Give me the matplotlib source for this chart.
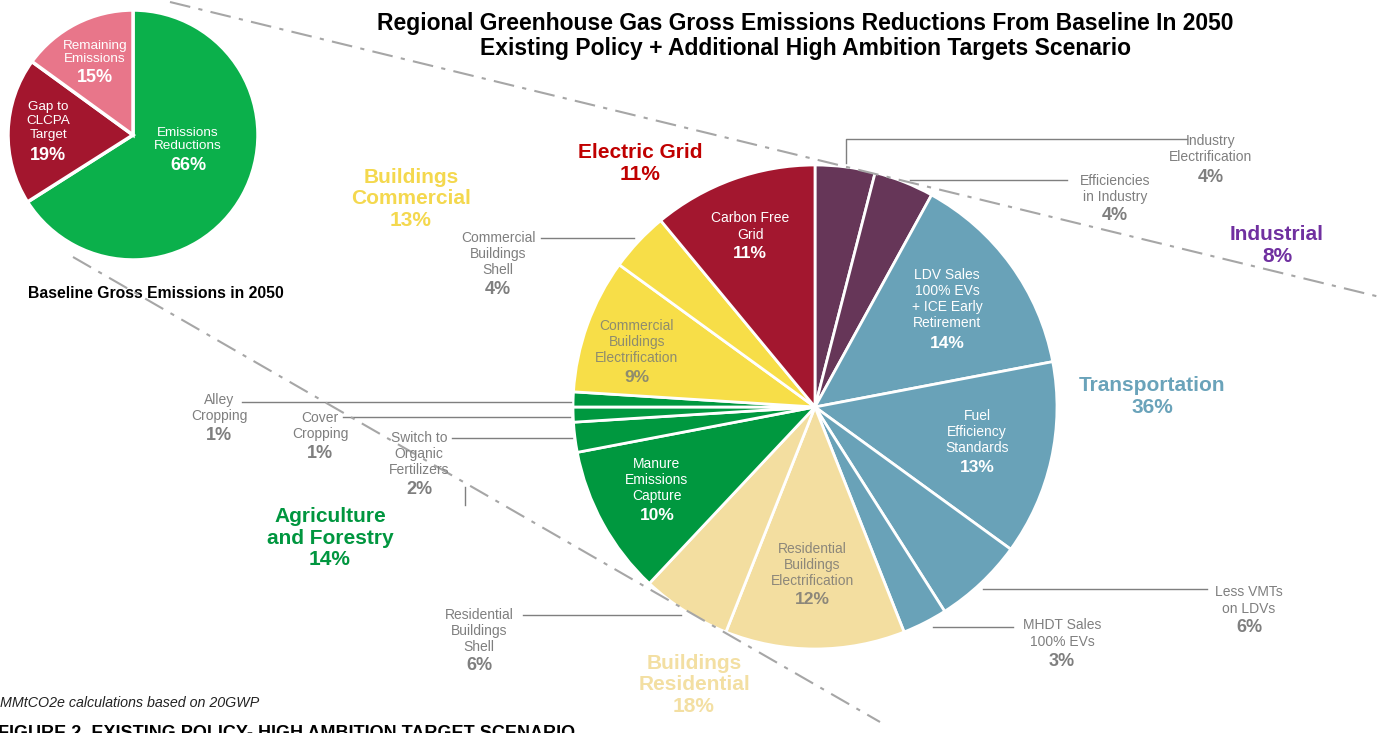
import matplotlib
matplotlib.use('Agg')
import matplotlib.pyplot as plt

plt.rcParams['font.family'] = ['Liberation Sans', 'DejaVu Sans']

# big pie, clockwise from 12 o'clock
measures = ['Industry\nElectrification', 'Efficiencies\nin Industry',
            'LDV Sales\n100% EVs\n+ ICE Early\nRetirement', 'Fuel\nEfficiency\nStandards',
            'Less VMTs\non LDVs', 'MHDT Sales\n100% EVs',
            'Residential\nBuildings\nElectrification', 'Residential\nBuildings\nShell',
            'Manure\nEmissions\nCapture', 'Switch to\nOrganic\nFertilizers',
            'Cover\nCropping', 'Alley\nCropping',
            'Commercial\nBuildings\nElectrification', 'Commercial\nBuildings\nShell',
            'Carbon Free\nGrid']
shares = [4, 4, 14, 13, 6, 3, 12, 6, 10, 2, 1, 1, 9, 4, 11]
sector_of = ['ind', 'ind', 'tra', 'tra', 'tra', 'tra', 'res', 'res',
             'agr', 'agr', 'agr', 'agr', 'com', 'com', 'grid']

sectors = ['Electric Grid', 'Buildings\nCommercial', 'Industrial',
           'Transportation', 'Agriculture\nand Forestry', 'Buildings\nResidential']
sector_share = [11, 13, 8, 36, 14, 18]

# small pie (baseline)
base_labels = ['Emissions\nReductions', 'Gap to\nCLCPA\nTarget', 'Remaining\nEmissions']
base_share = [66, 19, 15]

fill = {'ind': '#663658', 'tra': '#69A2B8', 'res': '#F3DEA0',
        'agr': '#00983F', 'com': '#F7DE48', 'grid': '#A3172F'}
base_colors = ['#0BB04B', '#A3162E', '#E8768A']
sector_colors = ['#C00000', '#F4D84E', '#7030A0', '#6AA3BA', '#00963F', '#F3DFA2']

H = 733
def Y(y):
    return H - y

fig = plt.figure(figsize=(13.89, 7.33), dpi=100)
ax = fig.add_axes([0, 0, 1, 1])

ax.pie(shares, colors=[fill[s] for s in sector_of], startangle=90, counterclock=False,
       center=(815, Y(407)), radius=242,
       wedgeprops=dict(edgecolor='white', linewidth=2))
ax.pie(base_share, colors=base_colors, startangle=90, counterclock=False,
       center=(133, Y(135)), radius=125,
       wedgeprops=dict(edgecolor='white', linewidth=2.5))

ax.set_xlim(0, 1389)
ax.set_ylim(0, H)
ax.set_aspect('equal')
ax.axis('off')

# dash-dot guide lines from the baseline pie
ax.plot([170, 1380], [Y(2), Y(297)], color='#A6A6A6', lw=1.5, dashes=(10, 4, 2, 4), zorder=5)
ax.plot([73, 880], [Y(257), Y(722)], color='#A6A6A6', lw=1.5, dashes=(10, 4, 2, 4), zorder=5)

def lab(x, yn, yp, i, color='#7F7F7F', pcolor=None, fs=10, pfs=13):
    ax.text(x, Y(yn), measures[i], ha='center', va='center', fontsize=fs,
            color=color, linespacing=1.2, zorder=6)
    ax.text(x, Y(yp), '%d%%' % shares[i], ha='center', va='center', fontsize=pfs,
            color=pcolor or color, fontweight='bold', zorder=6)

# inside labels
lab(750, 226.5, 254, 14, 'white', pfs=12.5)
lab(947, 299, 343, 2, 'white', pfs=12.5)
lab(977, 432, 467, 3, 'white', pfs=12.5)
lab(812, 565, 600, 6, '#8C877A', pfs=12.5)
lab(657, 480, 515, 8, 'white', pfs=12.5)
lab(637, 342, 377, 12, '#8E8C6E', pfs=12.5)

# outside labels
lab(1211, 149, 177, 0)
lab(1115, 189, 216, 1)
lab(1249, 600.5, 628, 4)
lab(1062, 633.5, 661, 5)
lab(479, 631, 666, 7)
lab(498, 254, 289, 13)
lab(419, 454, 490, 9)
lab(320, 426, 453, 10)
lab(219, 408, 435, 11)

# leader lines
lc = '#7F7F7F'
ax.plot([846, 846, 1187], [Y(163), Y(139), Y(139)], color=lc, lw=1)
ax.plot([910, 1067], [Y(180), Y(180)], color=lc, lw=1)
ax.plot([983, 1207], [Y(589), Y(589)], color=lc, lw=1)
ax.plot([933, 1013], [Y(627), Y(627)], color=lc, lw=1)
ax.plot([523, 681], [Y(615), Y(615)], color=lc, lw=1)
ax.plot([541, 634], [Y(238), Y(238)], color=lc, lw=1)
ax.plot([452, 572], [Y(438), Y(438)], color=lc, lw=1)
ax.plot([343, 570], [Y(417), Y(417)], color=lc, lw=1)
ax.plot([242, 571], [Y(402), Y(402)], color=lc, lw=1)
ax.plot([465, 465], [Y(487), Y(505)], color=lc, lw=1)

# sector totals
sec_pos = [(640, 163.5), (411, 199), (1277, 245.5), (1152, 396.5), (330, 538), (694, 685)]
for name, sh, c, (x, y) in zip(sectors, sector_share, sector_colors, sec_pos):
    ax.text(x, Y(y), '%s\n%d%%' % (name, sh), ha='center', va='center', fontsize=15,
            fontweight='bold', color=c, linespacing=1.15, zorder=6)

# baseline pie labels
base_pos = [(188, 139.5, 166), (48, 121, 155), (95, 52.5, 78)]
for name, sh, (x, yn, yp) in zip(base_labels, base_share, base_pos):
    ax.text(x, Y(yn), name, ha='center', va='center', fontsize=9.7, color='white',
            linespacing=1.2)
    ax.text(x, Y(yp), '%d%%' % sh, ha='center', va='center', fontsize=13,
            color='white', fontweight='bold')

ax.text(156, Y(293), 'Baseline Gross Emissions in 2050', ha='center', va='center',
        fontsize=11.3, fontweight='bold', color='black')

ax.text(805, Y(36), 'Regional Greenhouse Gas Gross Emissions Reductions From Baseline In 2050\n'
        'Existing Policy + Additional High Ambition Targets Scenario',
        ha='center', va='center', fontsize=16.5, fontweight='bold', color='black',
        linespacing=1.15)

ax.text(0, Y(703), 'MMtCO2e calculations based on 20GWP', ha='left', va='center',
        fontsize=10.3, style='italic', color='#222222')
ax.text(-2, Y(725), 'FIGURE 2. EXISTING POLICY- HIGH AMBITION TARGET SCENARIO', ha='left',
        va='top', fontsize=13, fontweight='bold', color='black')

fig.savefig('out.png', dpi=100)
